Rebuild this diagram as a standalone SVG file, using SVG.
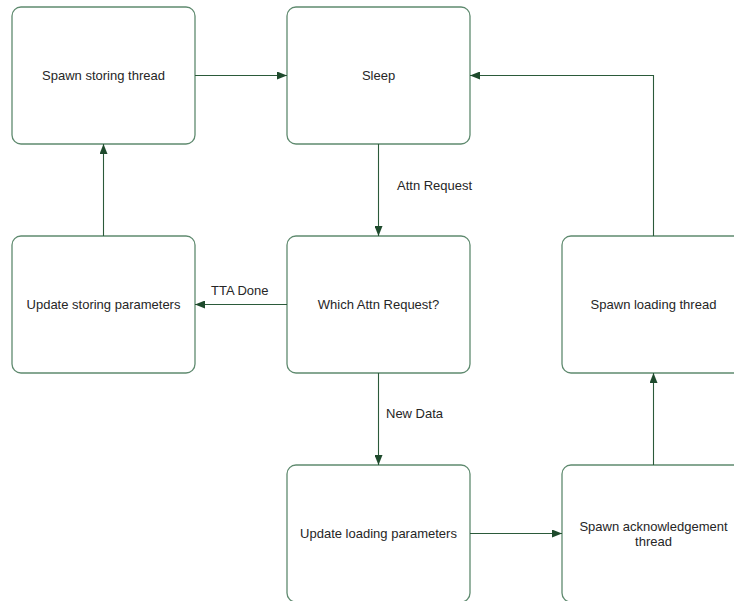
<svg xmlns="http://www.w3.org/2000/svg" width="734" height="601" viewBox="0 0 734 601">
<style>
.box{fill:#ffffff;stroke:#5f8a6f;stroke-width:1.3}
.t{font-family:"Liberation Sans",Arial,sans-serif;font-size:13px;fill:#262626;text-anchor:middle}
.l{font-family:"Liberation Sans",Arial,sans-serif;font-size:13px;fill:#262626}
.c{fill:none;stroke:#2b5a3a;stroke-width:1.1}
</style>
<defs>
<marker id="ah" viewBox="0 0 10 8" refX="10" refY="4" markerWidth="10" markerHeight="8" markerUnits="userSpaceOnUse" orient="auto">
<path d="M0,0 L10,4 L0,8 Z" fill="#1e4a2c"/>
</marker>
</defs>
<rect width="734" height="601" fill="#ffffff"/>
<g id="spawn-storing"><rect class="box" x="12" y="7" width="183" height="137" rx="9"/><text class="t" x="103.5" y="80">Spawn storing thread</text></g>
<g id="sleep"><rect class="box" x="287" y="7" width="183" height="137" rx="9"/><text class="t" x="378.5" y="80">Sleep</text></g>
<g id="update-storing"><rect class="box" x="12" y="236" width="183" height="137" rx="9"/><text class="t" x="103.5" y="309">Update storing parameters</text></g>
<g id="which-attn"><rect class="box" x="287" y="236" width="183" height="137" rx="9"/><text class="t" x="378.5" y="309">Which Attn Request?</text></g>
<g id="spawn-loading"><rect class="box" x="562" y="236" width="183" height="137" rx="9"/><text class="t" x="653.5" y="309">Spawn loading thread</text></g>
<g id="update-loading"><rect class="box" x="287" y="465" width="183" height="137" rx="9"/><text class="t" x="378.5" y="538">Update loading parameters</text></g>
<g id="spawn-ack"><rect class="box" x="562" y="465" width="183" height="137" rx="9"/><text class="t" x="653.5" y="531">Spawn acknowledgement</text><text class="t" x="653.5" y="546">thread</text></g>
<g id="connectors">
<path class="c" d="M195,75.5 L287,75.5" marker-end="url(#ah)"/>
<path class="c" d="M378.5,144 L378.5,236" marker-end="url(#ah)"/>
<path class="c" d="M287,304.5 L195,304.5" marker-end="url(#ah)"/>
<path class="c" d="M103.5,236 L103.5,144" marker-end="url(#ah)"/>
<path class="c" d="M378.5,373 L378.5,465" marker-end="url(#ah)"/>
<path class="c" d="M470,533.5 L562,533.5" marker-end="url(#ah)"/>
<path class="c" d="M653.5,465 L653.5,373" marker-end="url(#ah)"/>
<path class="c" d="M653.5,236 L653.5,75.5 L470,75.5" marker-end="url(#ah)"/>
<text class="l" x="397" y="190">Attn Request</text>
<text class="l" x="211" y="295">TTA Done</text>
<text class="l" x="386" y="418">New Data</text>
</g>
</svg>
